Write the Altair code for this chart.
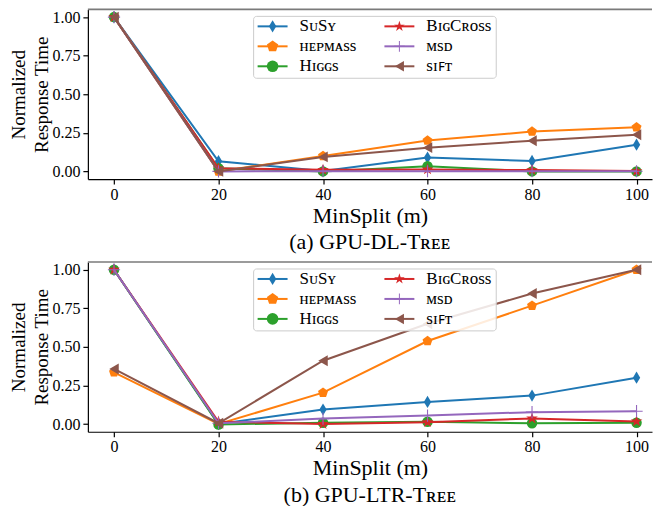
import altair as alt
import pandas as pd

# ---- data ----
minsplit = [0, 20, 40, 60, 80, 100]
series = ["SuSy", "hepmass", "Higgs", "BigCross", "MSD", "SIFT"]

# (a) GPU-DL-Tree
dl_susy = [1.0, 0.066, 0.003, 0.090, 0.068, 0.173]
dl_hepmass = [1.0, 0.0, 0.100, 0.200, 0.258, 0.286]
dl_higgs = [1.0, 0.020, 0.0, 0.034, 0.0, 0.0]
dl_bigcross = [1.0, 0.020, 0.010, 0.013, 0.009, 0.002]
dl_msd = [1.0, 0.0, 0.001, 0.001, 0.001, 0.001]
dl_sift = [1.0, 0.0, 0.094, 0.154, 0.199, 0.237]

# (b) GPU-LTR-Tree
ltr_susy = [1.0, 0.0, 0.094, 0.143, 0.184, 0.300]
ltr_hepmass = [0.335, 0.0, 0.203, 0.538, 0.767, 1.0]
ltr_higgs = [1.0, -0.003, 0.008, 0.015, 0.005, 0.008]
ltr_bigcross = [1.0, 0.015, 0.0, 0.012, 0.036, 0.017]
ltr_msd = [1.0, 0.005, 0.035, 0.055, 0.077, 0.083]
ltr_sift = [0.357, 0.005, 0.410, 0.650, 0.846, 1.0]

# legend text (small caps)
legend_labels = ["SᴜSʏ", "ʜᴇᴘᴍᴀss", "Hɪɢɢs", "BɪɢCʀoss", "ᴍsᴅ", "sɪꜰᴛ"]
legend_col = [0, 0, 0, 1, 1, 1]
legend_row = [0, 1, 2, 0, 1, 2]

captions = ["(a) GPU-DL-Tʀᴇᴇ", "(b) GPU-LTR-Tʀᴇᴇ"]

# ---- styles ----
colors = ["#1f77b4", "#ff7f0e", "#2ca02c", "#d62728", "#9467bd", "#8c564b"]
shapes = [
    "M0,-1L0.6,0L0,1L-0.6,0Z",
    "M0,-1L0.951,-0.309L0.588,0.809L-0.588,0.809L-0.951,-0.309Z",
    "circle",
    "M0,-1L0.2245,-0.309L0.951,-0.309L0.363,0.118L0.588,0.809L0,0.382L-0.588,0.809L-0.363,0.118L-0.951,-0.309L-0.2245,-0.309Z",
    "M-1,-0.09L-0.09,-0.09L-0.09,-1L0.09,-1L0.09,-0.09L1,-0.09L1,0.09L0.09,0.09L0.09,1L-0.09,1L-0.09,0.09L-1,0.09Z",
    "triangle-left",
]
sizes = [150, 110, 110, 150, 150, 120]
FONT = "Liberation Serif"
W, H = 565, 170


def panel(vals, caption):
    rows = []
    for s, v in zip(series, vals):
        for x, y in zip(minsplit, v):
            rows.append({"series": s, "minsplit": x, "time": y})
    df = pd.DataFrame(rows)
    xs = alt.Scale(domain=[-5, 102.96], nice=False, zero=False)
    ys = alt.Scale(domain=[-0.05, 1.05], nice=False, zero=False)
    xaxis = alt.Axis(values=minsplit, title="MinSplit (m)", format="d",
                     titleFontSize=22, labelPadding=2, titlePadding=3)
    yaxis = alt.Axis(values=[0, 0.25, 0.5, 0.75, 1.0], format=".2f",
                     title=["Normalized", "Response Time"], titleFontSize=19,
                     titleLineHeight=23, titlePadding=0, labelPadding=3)
    base = alt.Chart(df)
    layers = []
    for i, s in enumerate(series):
        sub = base.transform_filter(alt.datum.series == s)
        enc = dict(x=alt.X("minsplit:Q", scale=xs, axis=xaxis),
                   y=alt.Y("time:Q", scale=ys, axis=yaxis))
        layers.append(sub.mark_line(color=colors[i], strokeWidth=2).encode(**enc))
        layers.append(sub.mark_point(shape=shapes[i], filled=True, color=colors[i],
                                     size=sizes[i], opacity=1).encode(**enc))
    data_layer = alt.layer(*layers)

    leg_df = pd.DataFrame({"series": series, "label": legend_labels,
                           "col": legend_col, "row": legend_row})
    leg = alt.Chart(leg_df).transform_calculate(
        ly="17 + 20*datum.row",
        lx1="170 + 127*datum.col",
        lx2="200 + 127*datum.col",
        mx="185 + 127*datum.col",
        tx="212 + 127*datum.col",
    )
    cscale = alt.Scale(domain=series, range=colors)
    sscale = alt.Scale(domain=series, range=shapes)
    sizescale = alt.Scale(domain=series, range=sizes)
    box = alt.Chart(pd.DataFrame({"k": [0]})).mark_rect(
        fill="white", fillOpacity=0.85, stroke="#cccccc", strokeWidth=1, cornerRadius=3
    ).encode(x=alt.value(166), x2=alt.value(409), y=alt.value(7), y2=alt.value(69))
    top = alt.Chart(pd.DataFrame({"k": [0]})).mark_rule(color="#7a7a7a", strokeWidth=1.6).encode(
        x=alt.value(0), x2=alt.value(W), y=alt.value(0))
    leg_lines = leg.mark_rule(strokeWidth=2).encode(
        x=alt.X("lx1:Q", scale=None, axis=None), x2="lx2:Q",
        y=alt.Y("ly:Q", scale=None, axis=None),
        color=alt.Color("series:N", scale=cscale, legend=None))
    leg_pts = leg.mark_point(filled=True, opacity=1).encode(
        x=alt.X("mx:Q", scale=None, axis=None),
        y=alt.Y("ly:Q", scale=None, axis=None),
        color=alt.Color("series:N", scale=cscale, legend=None),
        shape=alt.Shape("series:N", scale=sscale, legend=None),
        size=alt.Size("series:N", scale=sizescale, legend=None))
    leg_txt = leg.mark_text(align="left", baseline="middle", font=FONT, fontSize=17,
                            color="black").encode(
        x=alt.X("tx:Q", scale=None, axis=None),
        y=alt.Y("ly:Q", scale=None, axis=None),
        text="label:N")
    legend_layer = alt.layer(top, box, leg_lines, leg_pts, leg_txt)

    return alt.layer(data_layer, legend_layer).resolve_scale(
        x="independent", y="independent", color="independent", shape="independent", size="independent"
    ).properties(
        width=W, height=H,
        title=alt.TitleParams(caption, orient="bottom", anchor="middle", font=FONT,
                              fontSize=22, fontWeight="normal", color="black", offset=6),
    )


chart_a = panel([dl_susy, dl_hepmass, dl_higgs, dl_bigcross, dl_msd, dl_sift], captions[0])
chart_b = panel([ltr_susy, ltr_hepmass, ltr_higgs, ltr_bigcross, ltr_msd, ltr_sift], captions[1])

chart = alt.vconcat(chart_a, chart_b, spacing=8).properties(
    background="white", padding={"left": 2, "top": 0, "right": 0, "bottom": 0}
).configure_view(stroke=None).configure_axis(
    grid=False, domainColor="black", domainWidth=1.2, tickColor="black", tickWidth=1.2,
    tickSize=5, labelFont=FONT, labelFontSize=16, labelColor="black",
    titleFont=FONT, titleFontWeight="normal", titleColor="black",
)

chart.save("out.html", embed_options={"renderer": "svg", "actions": False})
